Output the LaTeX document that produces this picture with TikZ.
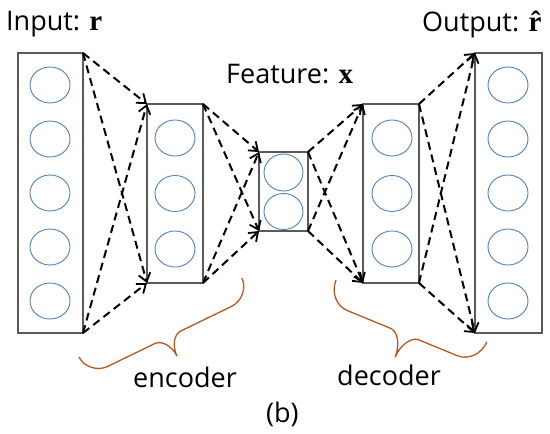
\documentclass[tikz,border=0pt]{standalone}
\usepackage{fontspec}
\setmainfont{Open Sans}
\newfontfamily\serifb{Liberation Serif}[BoldFont={* Bold}]
\usetikzlibrary{arrows.meta,shapes.geometric}
\definecolor{cellblue}{RGB}{79,129,189}
\definecolor{bracebrown}{RGB}{178,89,33}
\definecolor{boxgray}{RGB}{90,90,90}
\tikzset{
  layer/.style={draw=boxgray, line width=1.4pt, rectangle, inner sep=0pt, outer sep=0pt},
  cell/.style={draw=cellblue, line width=0.9pt, ellipse, inner sep=0pt, minimum width=40pt, minimum height=36pt},
  conn/.style={line width=2pt, dash pattern=on 8pt off 5pt, -{Straight Barb[length=8pt,width=12pt,line width=1.8pt]}},
  lbl/.style={anchor=base west, inner sep=0pt, font=\fontsize{27}{32}\selectfont},
  bracepath/.style={draw=bracebrown, line width=1.3pt}
}
\newcommand{\bv}[1]{{\serifb\bfseries\fontsize{29}{32}\selectfont #1}}
\begin{document}
\begin{tikzpicture}[x=1pt,y=-1pt]
\useasboundingbox (0,0) rectangle (550,434);
% layers
\node[layer, minimum width=65pt, minimum height=280pt] (L1) at (50.5,193) {};
\node[layer, minimum width=56pt, minimum height=179pt] (L2) at (175,193.5) {};
\node[layer, minimum width=49pt, minimum height=79pt] (L3) at (283.5,191.5) {};
\node[layer, minimum width=56pt, minimum height=179pt] (L4) at (391,193.5) {};
\node[layer, minimum width=67pt, minimum height=280pt] (L5) at (508.5,193) {};
% cells
\foreach \y [count=\i] in {85,139,193,247,301} {
  \node[cell] (a\i) at (50,\y) {};
  \node[cell] (e\i) at (508,\y) {};
}
\foreach \y [count=\i] in {138,193.5,249} {
  \node[cell] (b\i) at (175,\y) {};
  \node[cell] (d\i) at (392,\y) {};
}
\node[cell, minimum width=39pt, minimum height=37pt] (c1) at (283.5,172.5) {};
\node[cell, minimum width=39pt, minimum height=36pt] (c2) at (283.5,211.5) {};
% connectors
\foreach \s/\t in {L1/L2,L2/L3,L3/L4,L4/L5} {
  \draw[conn] (\s.north east) -- (\t.north west);
  \draw[conn] (\s.north east) -- (\t.south west);
  \draw[conn] (\s.south east) -- (\t.north west);
  \draw[conn] (\s.south east) -- (\t.south west);
}
% labels
\node[lbl] (tin) at (6,30) {Input: \bv{r}};
\node[lbl] (tfeat) at (226,83) {Feature: \bv{x}};
\node[lbl] (tout) at (422,31) {Output: \bv{\^{r}}};
\node[lbl] (tenc) at (133,387) {encoder};
\node[lbl] (tdec) at (337,385) {decoder};
\node[lbl] (tb) at (266,422) {(b)};
% encoder brace (local s along, p perpendicular)
\begin{scope}[shift={(79,357)}, rotate=25.86]
  \draw[bracepath] (0,0) .. controls (0,11) and (10,21) .. (22,21)
    -- (74.6,21) .. controls (81,21) and (88.6,30) .. (88.6,42)
    .. controls (88.6,30) and (96,21) .. (102.6,21)
    -- (159,21) .. controls (171,21) and (181,11) .. (181,0);
\end{scope}
% decoder brace
\begin{scope}[shift={(336,280)}, rotate=-22.3]
  \draw[bracepath] (0,0) .. controls (0,13) and (10,24) .. (22,24)
    -- (69,24) .. controls (76,24) and (84,35) .. (84,49)
    .. controls (84,35) and (92,24) .. (99,24)
    -- (141,24) .. controls (153,24) and (163,13) .. (163,0);
\end{scope}
\end{tikzpicture}
\end{document}
